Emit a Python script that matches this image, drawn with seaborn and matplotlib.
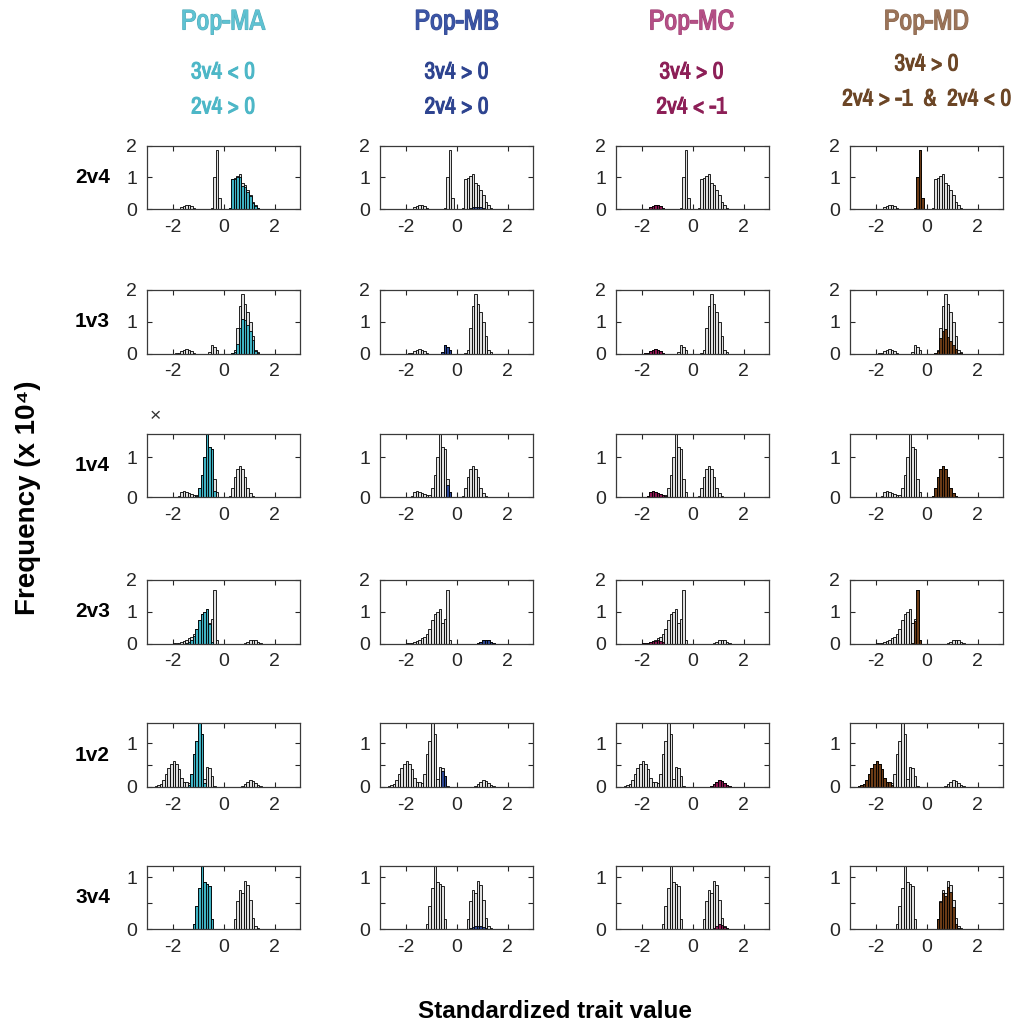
import numpy as np
import pandas as pd
import seaborn as sns
import matplotlib.pyplot as plt
import matplotlib.patheffects as pe

# Histogram bins: width 0.1 on the standardized trait axis, -3 .. 3
BW = 0.1

rows = ['2v4', '1v3', '1v4', '2v3', '1v2', '3v4']
pops = ['Pop-MA', 'Pop-MB', 'Pop-MC', 'Pop-MD']
conditions = [['3v4 < 0', '2v4 > 0'],
              ['3v4 > 0', '2v4 > 0'],
              ['3v4 > 0', '2v4 < -1'],
              ['3v4 > 0', '2v4 > -1  &  2v4 < 0']]

# each entry: (left edge of first bin, bin heights in units of 10^4)
ma_2v4 = (0.2, [0.03, 0.95, 0.95, 1.0, 1.02, 0.74, 0.69, 0.53, 0.41, 0.2, 0.11, 0.05])
mb_2v4 = (0.4, [0.02, 0.05, 0.08, 0.08, 0.07, 0.07, 0.04, 0.02, 0.01])
mc_2v4 = (-1.8, [0.02, 0.07, 0.11, 0.13, 0.12, 0.09, 0.05, 0.02])
md_2v4 = (-0.5, [0.04, 1.0, 1.85, 0.35])

ma_1v3 = (0.3, [0.01, 0.04, 0.3, 0.8, 1.1, 1.05, 0.9, 0.72, 0.42, 0.09, 0.03])
mb_1v3 = (-0.6, [0.05, 0.27, 0.22, 0.1])
mc_1v3 = (-1.9, [0.01, 0.03, 0.07, 0.12, 0.13, 0.12, 0.08, 0.03])
md_1v3 = (0.3, [0.02, 0.08, 0.5, 0.7, 0.76, 0.52, 0.4, 0.27, 0.13, 0.03, 0.01])

ma_1v4 = (-1.1, [0.03, 0.22, 0.55, 1.0, 1.65, 1.25, 1.2, 0.15])
mb_1v4 = (-0.4, [0.3, 0.12])
mc_1v4 = (-1.8, [0.03, 0.12, 0.16, 0.13, 0.1, 0.08, 0.05, 0.02])
md_1v4 = (0.2, [0.03, 0.22, 0.5, 0.7, 0.78, 0.7, 0.5, 0.22, 0.1, 0.03])

ma_2v3 = (-1.5, [0.02, 0.06, 0.12, 0.25, 0.45, 0.74, 0.93, 1.0, 1.1, 0.62, 0.04])
mb_2v3 = (0.8, [0.02, 0.06, 0.1, 0.11, 0.1, 0.06, 0.02])
mc_2v3 = (-2.0, [0.01, 0.02, 0.03, 0.05, 0.07, 0.09, 0.1, 0.08, 0.05])
md_2v3 = (-0.6, [0.03, 0.72, 1.7, 0.12])

ma_1v2 = (-1.4, [0.04, 0.3, 0.75, 1.05, 1.5, 1.2, 0.08])
mb_1v2 = (-0.6, [0.35, 0.25])
mc_1v2 = (0.7, [0.02, 0.06, 0.12, 0.15, 0.13, 0.09, 0.05, 0.02])
md_1v2 = (-2.7, [0.01, 0.03, 0.07, 0.15, 0.3, 0.42, 0.52, 0.58, 0.52, 0.4, 0.2, 0.1, 0.1, 0.05])
other_1v2 = (-0.8, [0.1, 0.45, 0.07, 0.0, 0.02])

ma_3v4 = (-1.2, [0.1, 0.45, 0.8, 1.25, 0.9, 0.86, 0.83, 0.2])
mb_3v4 = (0.5, [0.02, 0.05, 0.06, 0.07, 0.06, 0.05, 0.03, 0.01])
mc_3v4 = (0.8, [0.03, 0.07, 0.1, 0.08, 0.04, 0.02])
md_3v4 = (0.4, [0.2, 0.53, 0.7, 0.64, 0.82, 0.72, 0.42, 0.1, 0.02])
other_3v4 = (-2.0, [0.01, 0.01, 0.01, 0.01])

pop_hists = {
    'Pop-MA': [ma_2v4, ma_1v3, ma_1v4, ma_2v3, ma_1v2, ma_3v4],
    'Pop-MB': [mb_2v4, mb_1v3, mb_1v4, mb_2v3, mb_1v2, mb_3v4],
    'Pop-MC': [mc_2v4, mc_1v3, mc_1v4, mc_2v3, mc_1v2, mc_3v4],
    'Pop-MD': [md_2v4, md_1v3, md_1v4, md_2v3, md_1v2, md_3v4],
}
others = [None, None, None, None, other_1v2, other_3v4]

y_max = [2, 2, 1.6, 2, 1.45, 1.22]
y_ticks = [[0, 1, 2], [0, 1, 2], [0, 1], [0, 1, 2], [0, 0.5, 1], [0, 0.5, 1]]
y_ticklabels = [['0', '1', '2'], ['0', '1', '2'], ['0', '1'], ['0', '1', '2'],
                ['0', '', '1'], ['0', '', '1']]
x_ticks = [-2, 0, 2]
x_ticklabels = ['-2', '0', '2']

title_colors = ['#5ec2d2', '#3b55a6', '#b54f86', '#9b7459']
title_edges = ['#55adbc', '#34498f', '#a14677', '#8a6750']
cond_colors = ['#4db7c7', '#2e4490', '#8d1f57', '#6c4626']
bar_colors = ['#3fb3c4', '#2c4796', '#8f1653', '#6b3b16']
total_color = '#e0e0e0'

sns.set_theme(style='white')
plt.rcParams['font.family'] = ['Liberation Sans', 'DejaVu Sans']
plt.rcParams['axes.unicode_minus'] = False
narrow = ['Archivo Narrow', 'Liberation Sans', 'DejaVu Sans']

W, H = 1021, 1026
fig = plt.figure(figsize=(W / 100, H / 100), dpi=100)

edges = np.round(np.arange(-3.0, 3.0 + BW / 2, BW), 2)
centers = np.round(edges[:-1] + BW / 2, 3)


def on_grid(h):
    arr = np.zeros(len(centers))
    if h is None:
        return arr
    start, vals = h
    i = int(round((start + 3.0) / BW))
    arr[i:i + len(vals)] = vals
    return arr


def draw_hist(ax, arr, color):
    nz = np.nonzero(arr)[0]
    i0, i1 = nz[0], nz[-1]
    d = pd.DataFrame({'x': centers[i0:i1 + 1], 'w': arr[i0:i1 + 1]})
    sns.histplot(data=d, x='x', weights='w', bins=list(edges[i0:i1 + 2]),
                 color=color, edgecolor='black', linewidth=0.6, alpha=1, ax=ax)


col_left = [147, 380, 616, 850]
row_top = [145.7, 290, 433.5, 580, 723.3, 865.7]
ax_w, ax_h = 153, 63.5

for r, row in enumerate(rows):
    pop_arrays = [on_grid(pop_hists[p][r]) for p in pops]
    total = np.sum(pop_arrays, axis=0) + on_grid(others[r])
    for c, pop in enumerate(pops):
        ax = fig.add_axes([col_left[c] / W, 1 - (row_top[r] + ax_h) / H, ax_w / W, ax_h / H])
        draw_hist(ax, total, total_color)
        draw_hist(ax, pop_arrays[c], bar_colors[c])
        ax.set_xlim(-3, 3)
        ax.set_ylim(0, y_max[r])
        ax.set_xticks(x_ticks)
        ax.set_xticklabels(x_ticklabels)
        ax.set_yticks(y_ticks[r])
        ax.set_yticklabels(y_ticklabels[r])
        ax.set_xlabel('')
        ax.set_ylabel('')
        ax.tick_params(direction='in', top=True, right=True, bottom=True, left=True,
                       length=3.5, width=0.8, labelsize=14, colors='#262626')
        ax.tick_params(axis='x', pad=7)
        ax.tick_params(axis='y', pad=7)
        for sp in ax.spines.values():
            sp.set_color('#3a3a3a')
            sp.set_linewidth(0.9)
    fig.text(110 / W, 1 - (row_top[r] + ax_h / 2) / H, row, ha='right', va='center',
             fontsize=15, fontweight='bold', color='black')

# column headings and the conditions that define each sub-population
col_center = [223, 456.5, 691.5, 926.5]
cond_y = [[72, 107], [72, 107], [72, 107], [64, 99]]
for c, pop in enumerate(pops):
    fig.text(col_center[c] / W, 1 - 22 / H, pop, ha='center', va='center', fontsize=20.5,
             fontweight='bold', color=title_colors[c], family=narrow,
             path_effects=[pe.withStroke(linewidth=0.8, foreground=title_edges[c])])
    for line, yy in zip(conditions[c], cond_y[c]):
        fig.text(col_center[c] / W, 1 - yy / H, line, ha='center', va='center', fontsize=17,
                 fontweight='bold', color=cond_colors[c], family=narrow,
                 path_effects=[pe.withStroke(linewidth=0.7, foreground=cond_colors[c])])

fig.text(155 / W, 1 - 417 / H, '×', ha='center', va='center', fontsize=14, color='#333333')

fig.text(28 / W, 1 - 498 / H, 'Frequency (x 10⁴)', rotation=90, ha='center', va='center',
         fontsize=20, fontweight='bold', color='black')
fig.text(555 / W, 1 - 1012 / H, 'Standardized trait value', ha='center', va='center',
         fontsize=17.5, fontweight='bold', color='black')

fig.savefig('out.png', dpi=100)
